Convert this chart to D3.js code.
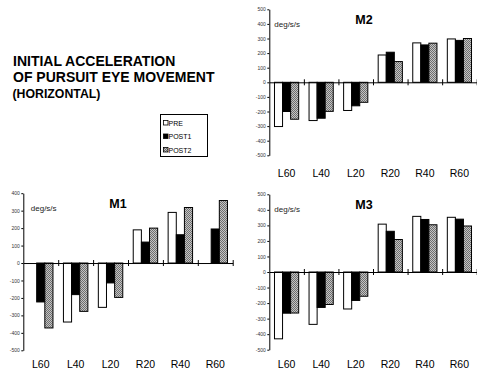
<!DOCTYPE html>
<html>
<head>
<meta charset="utf-8">
<script src="https://cdn.jsdelivr.net/npm/d3@7"></script>
<style>
  html, body { margin: 0; padding: 0; background: #fff; }
  svg { display: block; font-family: "Liberation Sans", Arial, sans-serif; }
</style>
</head>
<body>
<svg id="chart" width="477" height="376"></svg>
<script>
// Stimulus directions and recording sessions
const categories = ["L60", "L40", "L20", "R20", "R40", "R60"];
const seriesNames = ["PRE", "POST1", "POST2"];

// Initial acceleration (deg/s/s), one array per subject and session
const m1PRE   = [null, -338, -254, 190, 290, null];
const m1POST1 = [-223, -181, -114, 120, 162, 195];
const m1POST2 = [-372, -277, -197, 200, 318, 358];

const m2PRE   = [-303, -262, -193, 187, 270, 297];
const m2POST1 = [-200, -246, -161, 206, 256, 287];
const m2POST2 = [-253, -199, -137, 142, 268, 300];

const m3PRE   = [-430, -337, -238, 308, 358, 352];
const m3POST1 = [-265, -228, -183, 262, 338, 340];
const m3POST2 = [-264, -209, -156, 209, 304, 296];

// Y tick labels
const yTicksWide  = [500, 400, 300, 200, 100, 0, -100, -200, -300, -400, -500];
const yTicksM1    = [400, 300, 200, 100, 0, -100, -200, -300, -400, -500];

const titleLines = ["INITIAL ACCELERATION", "OF PURSUIT EYE MOVEMENT", "(HORIZONTAL)"];
const unitLabel = "deg/s/s";

const svg = d3.select("#chart");

// Fine checkered fill for the POST2 bars
const defs = svg.append("defs");
const pat = defs.append("pattern")
  .attr("id", "checker").attr("patternUnits", "userSpaceOnUse")
  .attr("width", 2).attr("height", 2);
pat.append("rect").attr("width", 2).attr("height", 2).attr("fill", "#c4c4c4");
pat.append("rect").attr("width", 1).attr("height", 1).attr("fill", "#6e6e6e");
pat.append("rect").attr("x", 1).attr("y", 1).attr("width", 1).attr("height", 1).attr("fill", "#6e6e6e");

const fills = { PRE: "#ffffff", POST1: "#000000", POST2: "url(#checker)" };

// Panel layout
const panels = [
  { name: "M2", values: [m2PRE, m2POST1, m2POST2], ticks: yTicksWide,
    x0: 269.3, x1: 476.7, yTopVal: 500, yTopPx: 9.3, yBotPx: 155.3, labelY: 176.5, unitDx: 5 },
  { name: "M1", values: [m1PRE, m1POST1, m1POST2], ticks: yTicksM1,
    x0: 23.3, x1: 232.7, yTopVal: 400, yTopPx: 193.2, yBotPx: 350.3, labelY: 368.3, unitDx: 7.5 },
  { name: "M3", values: [m3PRE, m3POST1, m3POST2], ticks: yTicksWide,
    x0: 269.3, x1: 476.7, yTopVal: 500, yTopPx: 194.3, yBotPx: 349.7, labelY: 368.3, unitDx: 5 }
];

panels.forEach(p => {
  const g = svg.append("g");
  const y = d3.scaleLinear().domain([-500, p.yTopVal]).range([p.yBotPx, p.yTopPx]);
  const x = d3.scaleBand().domain(categories).range([p.x0, p.x1])
    .paddingInner(0.3).paddingOuter(0.15);
  const xs = d3.scaleBand().domain(seriesNames).range([0, x.bandwidth()]);

  // Bars
  seriesNames.forEach((s, si) => {
    const rows = categories.map((c, i) => ({ c, v: p.values[si][i] })).filter(d => d.v != null);
    g.append("g").selectAll("rect").data(rows).join("rect")
      .attr("x", d => x(d.c) + xs(s))
      .attr("y", d => y(Math.max(0, d.v)))
      .attr("width", xs.bandwidth())
      .attr("height", d => Math.abs(y(d.v) - y(0)))
      .attr("fill", fills[s])
      .attr("stroke", "#000")
      .attr("stroke-width", 1);
  });

  // Y axis
  const ya = g.append("g").attr("transform", `translate(${p.x0},0)`)
    .call(d3.axisLeft(y).tickValues(p.ticks).tickFormat(d => String(d))
      .tickSizeInner(2).tickSizeOuter(0).tickPadding(1.5));
  ya.selectAll("text").attr("font-size", 5).attr("fill", "#333").attr("font-family", "Liberation Sans, Arial, sans-serif");
  ya.select(".domain").attr("stroke", "#000");

  // Zero line with boundary ticks crossing it
  const xb = d3.scaleLinear().domain([0, categories.length]).range([p.x0, p.x1]);
  const za = g.append("g").attr("transform", `translate(0,${y(0)})`)
    .call(d3.axisBottom(xb).tickValues(d3.range(1, categories.length + 1))
      .tickFormat("").tickSizeOuter(0));
  za.selectAll(".tick line").attr("y1", -3).attr("y2", 3).attr("stroke", "#000");
  za.select(".domain").attr("stroke", "#000");

  // Category labels
  const ca = g.append("g").attr("transform", `translate(0,${p.labelY})`)
    .call(d3.axisBottom(x).tickSize(0));
  ca.select(".domain").remove();
  ca.selectAll("text").attr("y", 0).attr("dy", 0)
    .attr("font-size", 10.5).attr("fill", "#000")
    .attr("font-family", "Liberation Sans, Arial, sans-serif");

  // Panel title and unit
  g.append("text").attr("x", p.x0 + 86).attr("y", p.yTopPx + 14.3)
    .attr("font-size", 12.5).attr("font-weight", "bold").text(p.name);
  g.append("text").attr("x", p.x0 + p.unitDx).attr("y", p.yTopPx + 17.5)
    .attr("font-size", 8).attr("fill", "#222").text(unitLabel);
});

// Chart title
svg.append("text").attr("x", 13).attr("y", 66.3)
  .attr("font-size", 14).attr("font-weight", "bold").text(titleLines[0]);
svg.append("text").attr("x", 13).attr("y", 81.6)
  .attr("font-size", 14).attr("font-weight", "bold").text(titleLines[1]);
svg.append("text").attr("x", 12.5).attr("y", 98)
  .attr("font-size", 12.3).attr("font-weight", "bold").text(titleLines[2]);

// Legend
const lg = svg.append("g");
lg.append("rect").attr("x", 160.5).attr("y", 114.5).attr("width", 47).attr("height", 42)
  .attr("fill", "#fff").attr("stroke", "#000").attr("stroke-width", 1);
seriesNames.forEach((s, i) => {
  const cy = 123 + i * 13.5;
  lg.append("rect").attr("x", 163.5).attr("y", cy - 2.5).attr("width", 4.5).attr("height", 4.5)
    .attr("fill", fills[s]).attr("stroke", "#000").attr("stroke-width", 0.8);
  lg.append("text").attr("x", 168.5).attr("y", cy + 2.5)
    .attr("font-size", 7).attr("fill", "#000").text(s);
});
</script>
</body>
</html>
